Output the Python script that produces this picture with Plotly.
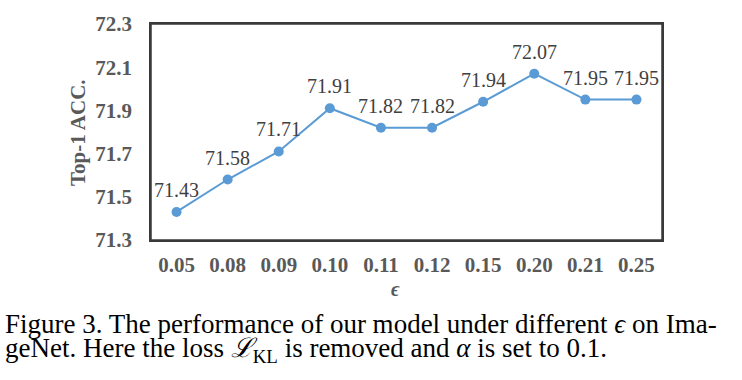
import plotly.graph_objects as go

categories = ["0.05", "0.08", "0.09", "0.10", "0.11", "0.12", "0.15", "0.20", "0.21", "0.25"]
acc = [71.43, 71.58, 71.71, 71.91, 71.82, 71.82, 71.94, 72.07, 71.95, 71.95]
y_ticks = [71.3, 71.5, 71.7, 71.9, 72.1, 72.3]

W, H = 742, 380
L, R, T, B = 151, 80, 24, 140
pw, ph = W - L - R, H - T - B

serif = "Liberation Serif, Times New Roman, serif"


def px(x):
    return (x - L) / pw


def py(y):
    return (H - B - y) / ph


fig = go.Figure()
fig.add_trace(go.Scatter(
    x=categories, y=acc, mode="lines+markers",
    line=dict(color="#5B9BD5", width=2),
    marker=dict(color="#5B9BD5", size=10),
    cliponaxis=False, showlegend=False, hoverinfo="skip",
))

# value labels: category axis positions are category indices
annotations = [
    dict(text=f"{v:.2f}", x=i, y=v, xref="x", yref="y", yshift=22,
         xanchor="center", yanchor="middle", showarrow=False,
         font=dict(family=serif, size=20, color="#404040"))
    for i, v in enumerate(acc)
]

annotations += [
    dict(text="<b>Top-1 ACC.</b>", textangle=-90, xref="paper", yref="paper",
         x=px(78), y=py(133), xanchor="center", yanchor="middle", showarrow=False,
         font=dict(family=serif, size=21, color="#595959")),
    dict(text="<b><i>ϵ</i></b>", xref="paper", yref="paper",
         x=px(395), y=py(289), xanchor="center", yanchor="middle", showarrow=False,
         font=dict(family=serif, size=20, color="#595959")),
    dict(text="Figure 3. The performance of our model under different <i>ϵ</i> on Ima-",
         xref="paper", yref="paper", x=px(3), y=py(324),
         xanchor="left", yanchor="middle", align="left", showarrow=False,
         font=dict(family=serif, size=27, color="#000000")),
    dict(text="geNet. Here the loss <i>ℒ</i><sub>KL</sub> is removed and <i>α</i> is set to 0.1.",
         xref="paper", yref="paper", x=px(3), y=py(350),
         xanchor="left", yanchor="middle", align="left", showarrow=False,
         font=dict(family=serif, size=27, color="#000000")),
]

fig.update_layout(
    width=W, height=H,
    margin=dict(l=L, r=R, t=T, b=B),
    paper_bgcolor="white", plot_bgcolor="white",
    xaxis=dict(
        type="category", range=[-0.5, 9.5],
        showgrid=False, zeroline=False,
        showline=True, linecolor="#3a3a3a", linewidth=1.5, mirror=True,
        ticks="", ticklabelstandoff=5,
        tickfont=dict(family=serif, size=21, color="#595959", weight="bold"),
    ),
    yaxis=dict(
        range=[71.3, 72.3], tickvals=y_ticks, ticktext=[f"{v:.1f}" for v in y_ticks],
        showgrid=False, zeroline=False,
        showline=True, linecolor="#3a3a3a", linewidth=1.5, mirror=True,
        ticks="", ticklabelstandoff=13,
        tickfont=dict(family=serif, size=21, color="#595959", weight="bold"),
    ),
    shapes=[dict(type="rect", xref="paper", yref="paper", x0=0, x1=1, y0=0, y1=1,
                 line=dict(color="#3a3a3a", width=1.5), layer="above")],
    annotations=annotations,
)

fig.write_html("out.html", config={"displayModeBar": False},
               post_script="document.body.style.margin='0';")
